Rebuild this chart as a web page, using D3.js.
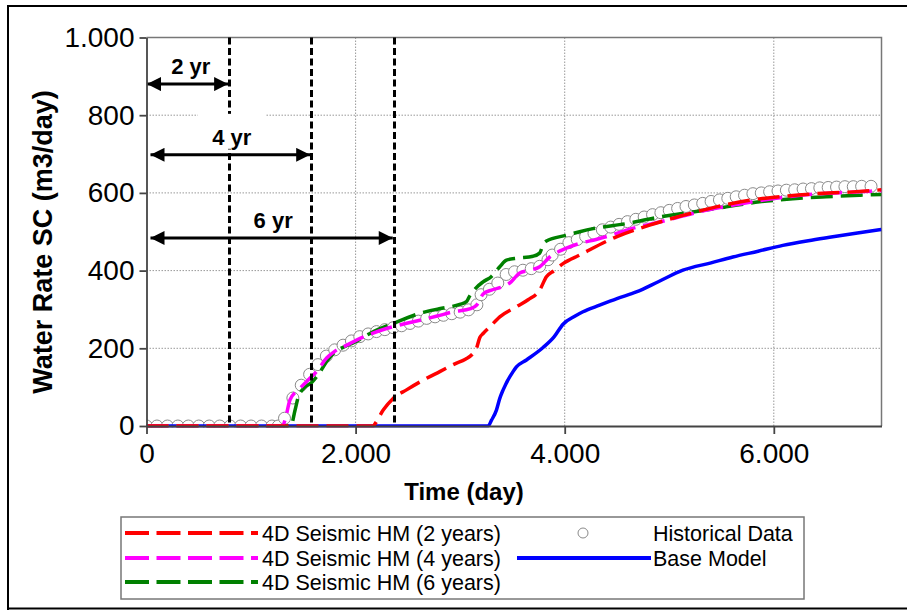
<!DOCTYPE html>
<html>
<head>
<meta charset="utf-8">
<script src="https://cdn.jsdelivr.net/npm/d3@7"></script>
<style>
  body { margin: 0; background: #fff; }
  text { font-family: "Liberation Sans", Arial, sans-serif; }
</style>
</head>
<body>
<svg id="chart" width="907" height="610"></svg>
<script>
// ---- data ----
const xTicks = [0, 2000, 4000, 6000];
const yTicks = [0, 200, 400, 600, 800, 1000];

// historical data (circles)
const histT = [0, 100, 200, 300, 400, 500, 600, 700, 800, 900, 1000, 1100, 1200, 1260,
  1320, 1400, 1480, 1560, 1640, 1720, 1800, 1880, 1960, 2040, 2120, 2200, 2280, 2360,
  2440, 2520, 2600, 2680, 2760, 2840, 2920, 3000, 3080, 3160, 3200, 3280, 3360, 3440,
  3520, 3600, 3680, 3760, 3840, 3880, 3960, 4040, 4120, 4200, 4280, 4360, 4440, 4520,
  4600, 4680, 4760, 4840, 4920, 5000, 5080, 5160, 5240, 5320, 5400, 5480, 5560, 5640,
  5720, 5800, 5880, 5960, 6040, 6120, 6200, 6280, 6360, 6440, 6520, 6600, 6680, 6760,
  6840, 6930];
const histV = [0, 0, 0, 0, 0, 0, 0, 0, 0, 0, 0, 0, 0, 0,
  20, 72, 105, 133, 158, 180, 196, 208, 219, 230, 237, 243, 248, 253,
  258, 264, 270, 277, 281, 285, 289, 293, 299, 312, 338, 352, 368, 390,
  397, 401, 405, 411, 428, 440, 455, 472, 480, 488, 496, 505, 512, 519,
  526, 532, 538, 544, 549, 555, 560, 565, 569, 573, 578, 582, 586, 590,
  594, 598, 600, 603, 605, 607, 608, 610, 611, 613, 614, 615, 616, 616,
  617, 617];

// 4D Seismic HM (2 years)
const hm2T = [0, 2170, 2184, 2264, 2359, 2487, 2646, 2805, 2950, 3050, 3124, 3156, 3188,
  3220, 3283, 3379, 3538, 3650, 3761, 3825, 3900, 3984, 4143, 4494, 4812, 5131, 5450,
  5768, 6086, 6405, 6724, 7030];
const hm2V = [0, 0, 5, 41, 71, 93, 118, 140, 160, 172, 187, 200, 228,
  238, 255, 281, 307, 325, 350, 384, 400, 418, 440, 487, 517, 542, 564,
  581, 591, 598, 602, 608];

// 4D Seismic HM (4 years)
const hm4T = [0, 1300, 1330, 1372, 1468, 1560, 1627, 1723, 1800, 1914, 2100, 2296, 2450,
  2614, 2780, 2933, 3100, 3160, 3220, 3300, 3379, 3474, 3570, 3650, 3761, 3857, 3950,
  4016, 4143, 4300, 4430, 4600, 4908, 5150, 5386, 5600, 5863, 6100, 6341, 6600, 6819, 7030];
const hm4V = [0, 0, 20, 67, 97, 122, 140, 175, 192, 208, 232, 251, 262,
  272, 283, 294, 302, 312, 340, 350, 356, 368, 394, 400, 410, 435, 450,
  458, 470, 480, 490, 505, 525, 542, 557, 568, 580, 589, 596, 600, 603, 606];

// 4D Seismic HM (6 years)
const hm6T = [0, 1380, 1420, 1452, 1500, 1580, 1650, 1720, 1800, 1900, 1977, 2150, 2359,
  2614, 2800, 2996, 3060, 3092, 3150, 3219, 3300, 3379, 3443, 3550, 3697, 3760, 3800,
  3825, 4016, 4143, 4271, 4590, 4908, 5226, 5545, 5863, 6182, 6501, 6819, 7030];
const hm6V = [0, 0, 40, 75, 96, 112, 135, 165, 190, 205, 214, 240, 264,
  290, 302, 313, 320, 335, 355, 371, 385, 410, 427, 432, 437, 445, 470,
  476, 491, 500, 508, 521, 538, 551, 564, 577, 585, 590, 594, 596];

// Base Model
const baseT = [0, 3267, 3300, 3347, 3379, 3411, 3506, 3538, 3634, 3793, 3900, 3984, 4100,
  4175, 4334, 4500, 4685, 4900, 5131, 5400, 5608, 5850, 6086, 6330, 6564, 6800, 7030];
const baseV = [0, 0, 15, 41, 71, 93, 140, 152, 170, 202, 230, 262, 283,
  294, 311, 328, 345, 372, 401, 420, 435, 450, 465, 477, 487, 497, 506];

// history-match windows (days) and labels
const windowDays = [790, 1575, 2365];
const windowLabels = ["2 yr", "4 yr", "6 yr"];
const windowArrowY = [880, 698, 484];   // in data units (m3/day)

const legendNames = ["4D Seismic HM (2 years)", "4D Seismic HM (4 years)",
  "4D Seismic HM (6 years)", "Historical Data", "Base Model"];

// ---- chart ----
const svg = d3.select("#chart");

const x = d3.scaleLinear().domain([0, 7030]).range([146.5, 881.5]);
const y = d3.scaleLinear().domain([0, 1000]).range([426, 37.5]);

const loc = d3.formatLocale({ decimal: ",", thousands: ".", grouping: [3], currency: ["", ""] });
const fmt = loc.format(",d");

// outer figure frame
svg.append("path")
  .attr("d", "M8,610 L8,6 L907,6 M8,608.5 L907,608.5")
  .attr("fill", "none")
  .attr("stroke", "#000")
  .attr("stroke-width", 2);

// gridlines
svg.append("g").selectAll("line")
  .data(yTicks.filter(d => d > 0 && d < 1000))
  .enter().append("line")
  .attr("x1", x(0)).attr("x2", x(7030))
  .attr("y1", d => y(d)).attr("y2", d => y(d))
  .attr("stroke", "#999").attr("stroke-width", 1)
  .attr("stroke-dasharray", "1.5,1.5");

svg.append("g").selectAll("line")
  .data(xTicks.filter(d => d > 0))
  .enter().append("line")
  .attr("x1", d => x(d)).attr("x2", d => x(d))
  .attr("y1", y(0)).attr("y2", y(1000))
  .attr("stroke", "#999").attr("stroke-width", 1)
  .attr("stroke-dasharray", "1.5,1.5");

// plot frame (top / right)
svg.append("path")
  .attr("d", `M${x(0)},${y(1000)} L${x(7030)},${y(1000)} L${x(7030)},${y(0)}`)
  .attr("fill", "none").attr("stroke", "#777").attr("stroke-width", 1.5);

// clip
svg.append("defs").append("clipPath").attr("id", "plotClip")
  .append("rect")
  .attr("x", x(0)).attr("y", y(1000))
  .attr("width", x(7030) - x(0)).attr("height", y(0) - y(1000) + 1.5);

const plot = svg.append("g").attr("clip-path", "url(#plotClip)");

const line = d3.line().curve(d3.curveMonotoneX).x(d => x(d[0])).y(d => y(d[1]));
const zip = (t, v) => t.map((d, i) => [d, v[i]]);

// historical circles
plot.append("g").selectAll("circle")
  .data(zip(histT, histV))
  .enter().append("circle")
  .attr("cx", d => x(d[0]))
  .attr("cy", d => y(d[1]))
  .attr("r", 6)
  .attr("fill", "#fff")
  .attr("stroke", "#8a8a8a")
  .attr("stroke-width", 1);

const series = [
  { t: baseT, v: baseV, color: "#0000ff", dash: null },
  { t: hm6T, v: hm6V, color: "#008000", dash: "22,8" },
  { t: hm4T, v: hm4V, color: "#ff00ff", dash: "22,8" },
  { t: hm2T, v: hm2V, color: "#ff0000", dash: "22,8" }
];

series.forEach(s => {
  plot.append("path")
    .datum(zip(s.t, s.v))
    .attr("d", line)
    .attr("fill", "none")
    .attr("stroke", s.color)
    .attr("stroke-width", 3.5)
    .attr("stroke-dasharray", s.dash);
});

// vertical window lines
svg.append("g").selectAll("line")
  .data(windowDays)
  .enter().append("line")
  .attr("x1", d => Math.round(x(d)) + 0.5).attr("x2", d => Math.round(x(d)) + 0.5)
  .attr("y1", y(1000)).attr("y2", y(0))
  .attr("stroke", "#000").attr("stroke-width", 3)
  .attr("stroke-dasharray", "7,3.5");

// arrow markers
const defs = svg.select("defs");
defs.append("marker")
  .attr("id", "ah")
  .attr("viewBox", "0 0 10 10")
  .attr("refX", 10).attr("refY", 5)
  .attr("markerUnits", "userSpaceOnUse")
  .attr("markerWidth", 16).attr("markerHeight", 14)
  .attr("orient", "auto-start-reverse")
  .append("path").attr("d", "M0,0 L10,5 L0,10 Z").attr("fill", "#000");

// label boxes + arrows + labels
const lab = svg.append("g");
windowDays.forEach((d, i) => {
  const ay = y(windowArrowY[i]);
  const cx = (x(0) + x(d)) / 2 + 3;
  lab.append("rect")
    .attr("x", cx - 34).attr("y", ay - 41)
    .attr("width", 68).attr("height", 35)
    .attr("fill", "#fff");
  lab.append("line")
    .attr("x1", x(0) + (i === 0 ? 0.5 : 4)).attr("x2", x(d) - 1)
    .attr("y1", ay).attr("y2", ay)
    .attr("stroke", "#000").attr("stroke-width", 3)
    .attr("marker-start", "url(#ah)")
    .attr("marker-end", "url(#ah)");
  lab.append("text")
    .attr("x", cx).attr("y", ay - 10)
    .attr("text-anchor", "middle")
    .attr("font-size", 22).attr("font-weight", "bold")
    .text(windowLabels[i]);
});

// axes
const yAxis = svg.append("g")
  .attr("transform", `translate(${x(0)},0)`)
  .call(d3.axisLeft(y).tickValues(yTicks).tickFormat(fmt).tickSize(7).tickPadding(5).tickSizeOuter(0));
const xAxis = svg.append("g")
  .attr("transform", `translate(0,${y(0)})`)
  .call(d3.axisBottom(x).tickValues(xTicks).tickFormat(fmt).tickSize(8).tickPadding(9).tickSizeOuter(0));

[yAxis, xAxis].forEach(a => {
  a.select(".domain").attr("stroke", "#444").attr("stroke-width", 1.8);
  a.selectAll(".tick line").attr("stroke", "#444").attr("stroke-width", 1.8);
  a.selectAll(".tick text")
    .attr("font-size", 28)
    .attr("font-family", "Liberation Sans, Arial, sans-serif")
    .attr("fill", "#000");
});

// axis titles
svg.append("text")
  .attr("transform", "translate(52,242) rotate(-90)")
  .attr("text-anchor", "middle")
  .attr("font-size", 27).attr("font-weight", "bold")
  .text("Water Rate SC (m3/day)");

svg.append("text")
  .attr("x", 464).attr("y", 500)
  .attr("text-anchor", "middle")
  .attr("font-size", 24).attr("font-weight", "bold")
  .text("Time (day)");

// legend
const leg = svg.append("g");
leg.append("rect")
  .attr("x", 121).attr("y", 517)
  .attr("width", 683).attr("height", 82)
  .attr("fill", "#fff")
  .attr("stroke", "#777").attr("stroke-width", 1.5);

const legRows = [533, 558, 582];
const legDashed = [
  { color: "#ff0000", name: legendNames[0] },
  { color: "#ff00ff", name: legendNames[1] },
  { color: "#008000", name: legendNames[2] }
];
legDashed.forEach((s, i) => {
  leg.append("line")
    .attr("x1", 125).attr("x2", 258)
    .attr("y1", legRows[i]).attr("y2", legRows[i])
    .attr("stroke", s.color).attr("stroke-width", 4)
    .attr("stroke-dasharray", "24,7.5");
  leg.append("text")
    .attr("x", 262).attr("y", legRows[i] + 7.5)
    .attr("font-size", 21.5)
    .text(s.name);
});

leg.append("circle")
  .attr("cx", 583).attr("cy", legRows[0])
  .attr("r", 5)
  .attr("fill", "#fff").attr("stroke", "#8a8a8a").attr("stroke-width", 1);
leg.append("text")
  .attr("x", 653).attr("y", legRows[0] + 7.5)
  .attr("font-size", 21.5)
  .text(legendNames[3]);

leg.append("line")
  .attr("x1", 517).attr("x2", 651)
  .attr("y1", legRows[1]).attr("y2", legRows[1])
  .attr("stroke", "#0000ff").attr("stroke-width", 4);
leg.append("text")
  .attr("x", 653).attr("y", legRows[1] + 7.5)
  .attr("font-size", 21.5)
  .text(legendNames[4]);
</script>
</body>
</html>
